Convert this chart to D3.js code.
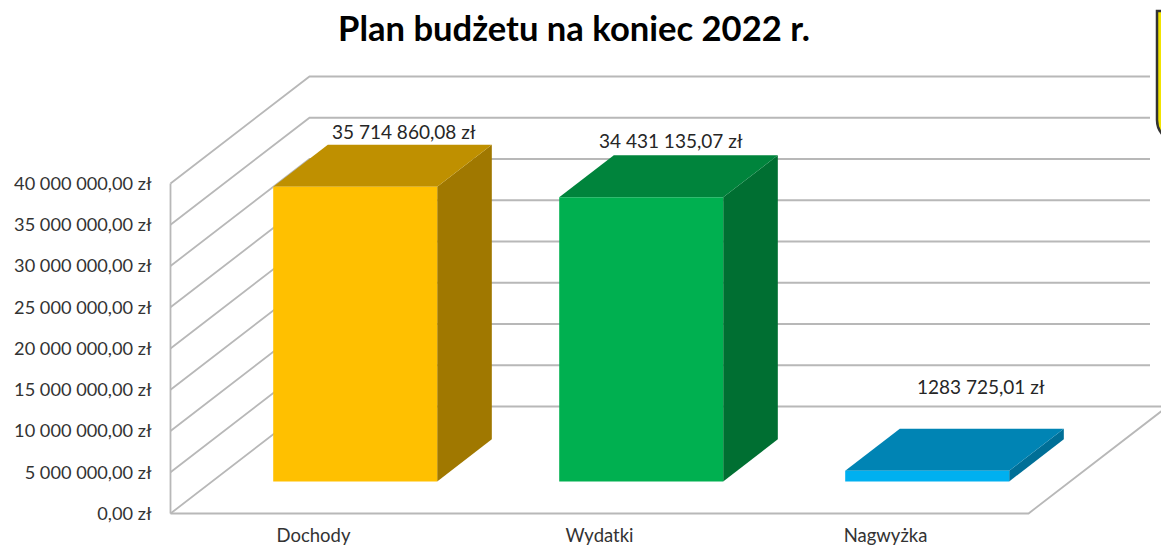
<!DOCTYPE html>
<html lang="pl">
<head>
<meta charset="utf-8">
<title>Plan budżetu na koniec 2022 r.</title>
<script src="https://cdn.jsdelivr.net/npm/d3@7"></script>
<style>
  html, body { margin: 0; padding: 0; background: #fff; overflow: hidden; }
  text { font-family: Lato, "Open Sans", sans-serif; }
</style>
</head>
<body>
<div id="chartArea"></div>
<script>
var categories = ['Dochody', 'Wydatki', 'Nagwyżka'];
var values = [35714860.08, 34431135.07, 1283725.01];
var valueLabels = ['35 714 860,08 zł', '34 431 135,07 zł', '1283 725,01 zł'];
var tickValues = [0, 5000000, 10000000, 15000000, 20000000, 25000000, 30000000, 35000000, 40000000];
var tickLabels = ['0,00 zł', '5 000 000,00 zł', '10 000 000,00 zł', '15 000 000,00 zł', '20 000 000,00 zł',
                  '25 000 000,00 zł', '30 000 000,00 zł', '35 000 000,00 zł', '40 000 000,00 zł'];

var frontColors = ['#FFC000', '#00B050', '#00B0F0'];
var topColors = ['#BF9000', '#00843C', '#0084B4'];
var sideColors = ['#A07800', '#006F32', '#006F97'];
// the labels were moved by hand in the original, so each one has its own nudge from the bar top
var labelNudge = [[-6, -6], [-25, -7], [-1, -35]];

var width = 1161, height = 547;
var plot = {left: 170.5, right: 1028.5, top: 183.5, bottom: 513.5};
var depth = {x: 139, y: 107};      // how far the back wall sits from the front plane
var barDepth = {from: 0.3, to: 0.693};

var xscale = d3.scaleBand().domain(categories)
            .range([plot.left, plot.right])
            .paddingInner(0.4266).paddingOuter(0.2133);
var yscale = d3.scaleLinear().domain([0, 40000000]).range([plot.bottom, plot.top]);

// oblique projection: t = 0 is the front plane, t = 1 the back wall
function px(x, t) { return x + depth.x * t; }
function py(y, t) { return y - depth.y * t; }
function poly(points) {
    return points.map(function (p) { return p[0] + ',' + p[1]; }).join(' ');
}

var svg = d3.select('#chartArea').append('svg')
            .attr('width', width)
            .attr('height', height)
            .style('display', 'block');

svg.append('text')
    .attr('x', 574)
    .attr('y', 41)
    .attr('text-anchor', 'middle')
    .style('font-size', '34.6px')
    .style('font-weight', '700')
    .style('fill', '#000')
    .text('Plan budżetu na koniec 2022 r.');

// corner of the logo that is cut off by the picture edge
svg.append('path')
    .attr('d', 'M1170,11 L1157,11 L1157,120 Q1157,129 1163,135 L1170,135 Z')
    .attr('fill', '#f2e400')
    .attr('stroke', '#333')
    .attr('stroke-width', 2.5);

// walls and floor
var grid = svg.append('g')
    .attr('fill', 'none')
    .attr('stroke', '#b8b8b8')
    .attr('stroke-width', 1.8);

grid.selectAll('polyline').data(tickValues).enter().append('polyline')
    .attr('points', function (d) {
        var y = yscale(d);
        // only the floor line runs on past the picture edge
        var end = d === 0 ? plot.right + depth.x : 1150;
        return poly([[plot.left, y], [px(plot.left, 1), py(y, 1)], [end, py(y, 1)]]);
    });

grid.append('line')
    .attr('x1', plot.left).attr('x2', plot.left)
    .attr('y1', yscale(40000000)).attr('y2', yscale(0));
grid.append('polyline')
    .attr('points', poly([[plot.left, plot.bottom], [plot.right, plot.bottom],
                          [px(plot.right, 1), py(plot.bottom, 1)]]));

// bars: front, top and side faces
var bars = svg.append('g').selectAll('g').data(categories).enter().append('g');

function barCorners(i) {
    var x0 = xscale(categories[i]), x1 = x0 + xscale.bandwidth();
    var y0 = yscale(0), y1 = yscale(values[i]);
    return {
        a: barDepth.from, b: barDepth.to,
        x0: x0, x1: x1, y0: y0, y1: y1
    };
}

bars.append('polygon')
    .attr('fill', function (d, i) { return sideColors[i]; })
    .attr('points', function (d, i) {
        var c = barCorners(i);
        return poly([[px(c.x1, c.a), py(c.y1, c.a)], [px(c.x1, c.b), py(c.y1, c.b)],
                     [px(c.x1, c.b), py(c.y0, c.b)], [px(c.x1, c.a), py(c.y0, c.a)]]);
    });
bars.append('polygon')
    .attr('fill', function (d, i) { return topColors[i]; })
    .attr('points', function (d, i) {
        var c = barCorners(i);
        return poly([[px(c.x0, c.a), py(c.y1, c.a)], [px(c.x1, c.a), py(c.y1, c.a)],
                     [px(c.x1, c.b), py(c.y1, c.b)], [px(c.x0, c.b), py(c.y1, c.b)]]);
    });
bars.append('polygon')
    .attr('fill', function (d, i) { return frontColors[i]; })
    .attr('points', function (d, i) {
        var c = barCorners(i);
        return poly([[px(c.x0, c.a), py(c.y1, c.a)], [px(c.x1, c.a), py(c.y1, c.a)],
                     [px(c.x1, c.a), py(c.y0, c.a)], [px(c.x0, c.a), py(c.y0, c.a)]]);
    });

// value labels
svg.append('g').selectAll('text').data(valueLabels).enter().append('text')
    .attr('x', function (d, i) {
        var c = barCorners(i);
        return px((c.x0 + c.x1) / 2, c.b) + labelNudge[i][0];
    })
    .attr('y', function (d, i) {
        return py(barCorners(i).y1, barDepth.to) + labelNudge[i][1];
    })
    .attr('text-anchor', 'middle')
    .style('font-size', '19px')
    .style('fill', '#262626')
    .text(function (d) { return d; });

// axes
var yAxis = svg.append('g')
    .attr('transform', 'translate(' + plot.left + ',0)')
    .call(d3.axisLeft(yscale)
        .tickValues(tickValues)
        .tickSize(0)
        .tickPadding(19)
        .tickFormat(function (d, i) { return tickLabels[i]; }));
yAxis.select('.domain').remove();
yAxis.selectAll('text')
    .style('font-family', 'Lato, "Open Sans", sans-serif')
    .style('font-size', '18.2px')
    .style('fill', '#333');

var xAxis = svg.append('g')
    .attr('transform', 'translate(0,' + plot.bottom + ')')
    .call(d3.axisBottom(xscale).tickSize(0).tickPadding(15));
xAxis.select('.domain').remove();
xAxis.selectAll('text')
    .style('font-family', 'Lato, "Open Sans", sans-serif')
    .style('font-size', '18.5px')
    .style('fill', '#333');
</script>
</body>
</html>
